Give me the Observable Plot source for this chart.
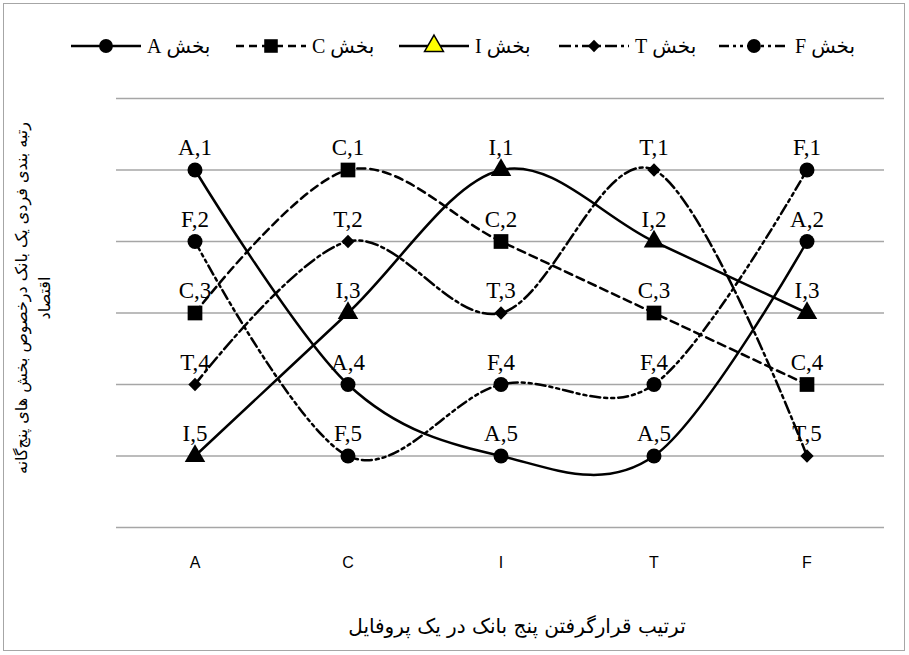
<!DOCTYPE html>
<html><head><meta charset="utf-8">
<script src="https://cdn.jsdelivr.net/npm/d3@7"></script>
<script src="https://cdn.jsdelivr.net/npm/@observablehq/plot@0.6"></script>
<style>
body{margin:0;background:#fff;width:909px;height:655px;overflow:hidden;position:relative;}
#frame{position:absolute;left:3px;top:3px;width:902px;height:648px;border:1.5px solid #a6a6a6;box-sizing:border-box;}
#chart{position:absolute;left:0;top:0;}
#legend{position:absolute;left:0;top:33px;width:909px;height:26px;}
.item{position:absolute;top:0;height:26px;display:flex;align-items:center;gap:5px;}
.item span{font-family:"Liberation Serif","DejaVu Sans",serif;font-size:20px;direction:rtl;unicode-bidi:isolate;color:#000;}
#ytitle{position:absolute;width:520px;height:46px;left:-227px;top:275px;transform:rotate(-90deg);
  font-family:"DejaVu Sans",sans-serif;font-size:16px;line-height:23px;text-align:center;direction:rtl;color:#000;}
#xtitle{position:absolute;left:267px;width:500px;top:614px;text-align:center;direction:rtl;
  font-family:"DejaVu Sans",sans-serif;font-size:20px;color:#000;}
</style></head><body>
<div id="frame"></div>
<div id="chart"></div>
<div id="legend"></div>
<div id="ytitle">رتبه بندی فردی یک بانک درخصوص بخش های پنج‌گانه<br>اقتصاد</div>
<div id="xtitle">ترتیب قرارگرفتن پنج بانک در یک پروفایل</div>
<script>
// ---- data ----
const categories = ["A", "C", "I", "T", "F"];
const seriesNames = ["A", "C", "I", "T", "F"];
const legendLabels = ["بخش A", "بخش C", "بخش I", "بخش T", "بخش F"];
const ranksA = [1, 4, 5, 5, 2];
const ranksC = [3, 1, 2, 3, 4];
const ranksI = [5, 3, 1, 2, 3];
const ranksT = [4, 2, 3, 1, 5];
const ranksF = [2, 5, 4, 4, 1];
const gridValues = [0, 1, 2, 3, 4, 5, 6];

// ---- styles ----
const seriesRanks = [ranksA, ranksC, ranksI, ranksT, ranksF];
const dashes = [null, "8,5", null, "12,4,3,4", "10,4,3,4,3,4"];
const symbols = ["circle", "square", "triangle", "diamond2", "circle"];
const symbolFns = {circle: d3.symbolCircle, square: d3.symbolSquare, triangle: d3.symbolTriangle, diamond2: d3.symbolDiamond2};
const radii = [7.5, 8.3, 7.6, 6, 7.5];
const legendFill = ["black", "black", "#ffff00", "black", "black"];
const legendLeft = [70, 235, 398, 558, 718];

const rows = [];
seriesNames.forEach((s, i) => {
  categories.forEach((c, j) => rows.push({series: s, idx: i, cat: c, rank: seriesRanks[i][j]}));
});

const marks = [
  Plot.ruleY(gridValues, {stroke: "#a6a6a6", strokeWidth: 1.6})
];
seriesNames.forEach((s, i) => {
  const d = rows.filter(r => r.series === s);
  marks.push(Plot.line(d, {x: "cat", y: "rank", curve: "cardinal", stroke: "black", strokeWidth: 2.5,
    strokeDasharray: dashes[i] || undefined}));
});
seriesNames.forEach((s, i) => {
  const d = rows.filter(r => r.series === s);
  marks.push(Plot.dot(d, {x: "cat", y: "rank", symbol: () => symbols[i], r: radii[i], fill: "black", stroke: "none"}));
});
marks.push(Plot.text(rows, {x: "cat", y: "rank", text: d => `${d.series},${d.rank}`, dy: -22,
  fontSize: 23, fontFamily: "Liberation Serif, serif", fill: "black"}));
marks.push(Plot.axisX({tickSize: 0, tickPadding: 29, fontSize: 16, fontFamily: "Liberation Sans, sans-serif", label: null, fill: "black"}));

const chart = Plot.plot({
  width: 909, height: 600,
  marginTop: 98, marginBottom: 73, marginLeft: 116, marginRight: 25,
  x: {type: "band", domain: categories, padding: 0},
  y: {domain: [6, 0], axis: null},
  symbol: {type: "identity"},
  style: {background: "transparent", color: "black"},
  marks
});
document.getElementById("chart").appendChild(chart);

// ---- legend ----
const legend = document.getElementById("legend");
seriesNames.forEach((s, i) => {
  const item = document.createElement("div");
  item.className = "item";
  item.style.left = legendLeft[i] + "px";
  const svg = d3.create("svg").attr("width", 72).attr("height", 26);
  svg.append("line").attr("x1", 1).attr("x2", 71).attr("y1", 13).attr("y2", 13)
    .attr("stroke", "black").attr("stroke-width", 2.5)
    .attr("stroke-dasharray", dashes[i] ? dashes[i] : null);
  svg.append("path").attr("transform", "translate(36,13)")
    .attr("d", d3.symbol(symbolFns[symbols[i]], Math.PI * radii[i] * radii[i] * 0.85)())
    .attr("fill", legendFill[i]).attr("stroke", "black").attr("stroke-width", i === 2 ? 1.5 : 0);
  item.appendChild(svg.node());
  const span = document.createElement("span");
  span.textContent = legendLabels[i];
  item.appendChild(span);
  legend.appendChild(item);
});
</script>
</body></html>
